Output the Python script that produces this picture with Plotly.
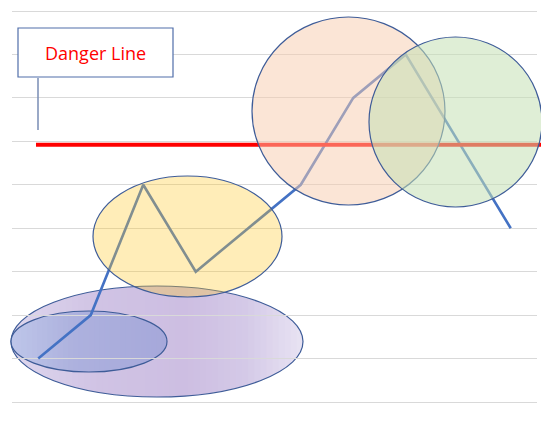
import math
import plotly.graph_objects as go

# ---- data ----
categories = ["1", "2", "3", "4", "5", "6", "7", "8", "9", "10"]
values = [1, 2, 5, 3, 4, 5, 7, 8, 6, 4]
danger_level = 5.92
danger_label = "Danger Line"

W, H = 541, 443
ML, MR, MT, MB = 12, 4, 6, 36
PW, PH = W - ML - MR, H - MT - MB
PAD = 5 / (391 / 9)  # extra y-range so edge gridlines are not clipped


def px(x):
    return (x - ML) / PW


def py(y):
    return (H - MB - y) / PH


OUTLINE = dict(color="rgb(62,92,152)", width=1.2)


def ellipse(x0, y0, x1, y1, fill, layer):
    return dict(type="circle", xref="paper", yref="paper",
                x0=px(x0), x1=px(x1), y0=py(y1), y1=py(y0),
                fillcolor=fill, line=OUTLINE, layer=layer)


def lerp_color(stops, t):
    for (ta, ca), (tb, cb) in zip(stops[:-1], stops[1:]):
        if ta <= t <= tb:
            f = (t - ta) / (tb - ta) if tb > ta else 0
            c = [round(a + (b - a) * f) for a, b in zip(ca, cb)]
            return "rgb(%d,%d,%d)" % tuple(c)
    return "rgb(%d,%d,%d)" % stops[-1][1]


def gradient_ellipse(x0, y0, x1, y1, stops, n=40, layer="below"):
    cx, cy = (x0 + x1) / 2, (y0 + y1) / 2
    rx, ry = (x1 - x0) / 2, (y1 - y0) / 2
    out = []
    for i in range(n):
        a = x0 + (x1 - x0) * i / n
        b = min(x1, x0 + (x1 - x0) * (i + 1) / n + 0.8)
        xs = [a + (b - a) * k / 6 for k in range(7)]
        top, bot = [], []
        for x in xs:
            u = max(0.0, 1 - ((x - cx) / rx) ** 2)
            h = ry * math.sqrt(u)
            top.append((x, cy - h))
            bot.append((x, cy + h))
        pts = top + bot[::-1]
        path = "M " + " L ".join("%.5f,%.5f" % (px(x), py(y)) for x, y in pts) + " Z"
        t = (i + 0.5) / n
        out.append(dict(type="path", xref="paper", yref="paper", path=path,
                        fillcolor=lerp_color(stops, t), line=dict(width=0),
                        layer=layer))
    out.append(ellipse(x0, y0, x1, y1, "rgba(0,0,0,0)", layer))
    return out


purple_stops = [(0, (222, 215, 238)), (0.3, (208, 195, 228)), (0.6, (205, 190, 226)),
                (0.8, (212, 201, 231)), (1, (232, 227, 243))]
blue_stops = [(0, (190, 198, 233)), (0.4, (173, 177, 222)), (1, (166, 168, 218))]

fig = go.Figure()
fig.add_trace(go.Scatter(x=categories, y=values, mode="lines",
                         line=dict(color="#4472C4", width=2.6),
                         hoverinfo="skip", showlegend=False))

shapes = []
shapes += gradient_ellipse(11, 286, 303, 397, purple_stops, n=48)
shapes += gradient_ellipse(11, 311, 167, 372, blue_stops, n=30)
shapes += [
    dict(type="line", xref="paper", yref="y", x0=px(36), x1=px(545),
         y0=danger_level, y1=danger_level,
         line=dict(color="#FF0000", width=4), layer="above"),
    ellipse(93, 176, 282, 297, "rgba(255,200,40,0.33)", "above"),
    ellipse(252, 17, 445, 205, "rgba(248,203,173,0.5)", "above"),
    ellipse(369, 37, 542, 207, "rgba(197,224,180,0.55)", "above"),
    dict(type="rect", xref="paper", yref="paper",
         x0=px(18), x1=px(173), y0=py(77), y1=py(28),
         fillcolor="white", line=dict(color="rgb(80,110,170)", width=1.2),
         layer="above"),
    dict(type="line", xref="paper", yref="paper",
         x0=px(38), x1=px(38), y0=py(78), y1=py(130),
         line=dict(color="rgb(120,140,180)", width=1.5), layer="above"),
]

fig.update_layout(
    width=W, height=H,
    margin=dict(l=ML, r=MR, t=MT, b=MB),
    paper_bgcolor="white", plot_bgcolor="white",
    shapes=shapes,
    annotations=[dict(xref="paper", yref="paper", x=px(95.5), y=py(52.5),
                      text=danger_label, showarrow=False,
                      font=dict(family="Open Sans", size=18, color="#FF0000"),
                      xanchor="center", yanchor="middle")],
    xaxis=dict(type="category", range=[-0.5, 9.5], showgrid=False,
               showticklabels=False, zeroline=False, showline=False, ticks=""),
    yaxis=dict(range=[-PAD, 9 + PAD], tick0=0, dtick=1, showgrid=True,
               gridcolor="rgb(217,217,217)", gridwidth=1,
               showticklabels=False, zeroline=False, showline=False, ticks=""),
)

fig.write_html("out.html")
